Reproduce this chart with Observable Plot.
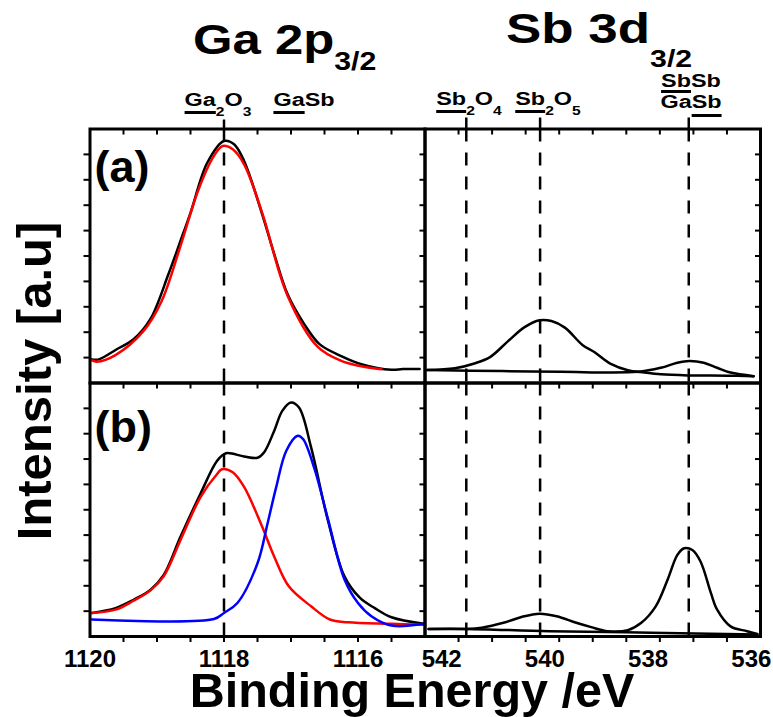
<!DOCTYPE html>
<html><head><meta charset="utf-8">
<script src="https://cdn.jsdelivr.net/npm/d3@7"></script>
<script src="https://cdn.jsdelivr.net/npm/@observablehq/plot@0.6"></script>
<style>
html,body{margin:0;padding:0;background:#fff;}
#chart{position:relative;width:773px;height:717px;overflow:hidden;font-family:"Liberation Sans",Arial,sans-serif;font-weight:bold;color:#000;}
.abs{position:absolute;white-space:nowrap;line-height:1;}
.lbl{font-size:18px;transform-origin:50% 0;transform:translateX(-50%) scaleX(1.3);text-align:center;}
.lbl sub{font-size:12px;vertical-align:-10px;line-height:0;}
.lbl u{text-decoration:underline;text-decoration-thickness:2.5px;text-underline-offset:5px;}
.ttl{font-size:42px;transform-origin:0 0;}
.ttl span{font-size:25px;line-height:0;}
</style></head><body><div id="chart"></div>
<script>
// ---------- data ----------
// Ga 2p3/2, panel (a)
const gaA_measE = [1119.97, 1119.87, 1119.6, 1119.35, 1119.1, 1118.83, 1118.65, 1118.5, 1118.25, 1118.0, 1117.85, 1117.7, 1117.43, 1117.25, 1117.05, 1116.8, 1116.57, 1116.25, 1115.95, 1115.5, 1115.33, 1115.08];
const gaA_meas  = [0.93, 0.93, 1.33, 1.72, 2.51, 4.28, 5.59, 6.7, 8.67, 9.53, 9.4, 8.74, 6.64, 5.07, 3.49, 2.31, 1.52, 1.06, 0.74, 0.52, 0.55, 0.55];
const gaA_oxE = [1119.97, 1119.9, 1119.62, 1119.2, 1118.93, 1118.65, 1118.38, 1118.15, 1118.02, 1117.87, 1117.7, 1117.43, 1117.05, 1116.6, 1116.25, 1115.95, 1115.65];
const gaA_ox  = [0.89, 0.84, 1.1, 2.05, 3.23, 5.39, 7.62, 8.94, 9.33, 9.2, 8.61, 6.7, 3.43, 1.42, 0.87, 0.66, 0.54];
// Ga 2p3/2, panel (b)
const gaB_measE = [1119.97, 1119.62, 1119.35, 1119.1, 1118.9, 1118.65, 1118.35, 1118.1, 1117.97, 1117.7, 1117.5, 1117.4, 1117.25, 1117.13, 1117.0, 1116.88, 1116.7, 1116.45, 1116.2, 1115.97, 1115.75, 1115.5, 1115.02];
const gaB_meas  = [0.93, 1.12, 1.45, 1.84, 2.43, 3.93, 5.64, 6.94, 7.23, 7.1, 7.05, 7.27, 8.12, 8.9, 9.23, 9.03, 7.46, 4.59, 2.36, 1.52, 1.12, 0.76, 0.5];
const gaB_oxE = [1119.97, 1119.62, 1119.35, 1119.1, 1118.9, 1118.65, 1118.35, 1118.1, 1118.03, 1117.87, 1117.7, 1117.43, 1117.25, 1117.03, 1116.7, 1116.42, 1116.15, 1115.5, 1115.02];
const gaB_ox  = [0.93, 1.06, 1.41, 1.81, 2.37, 3.8, 5.5, 6.42, 6.6, 6.48, 5.9, 4.33, 3.15, 1.97, 1.19, 0.67, 0.56, 0.5, 0.46];
const gaB_sbE = [1119.97, 1118.15, 1118.0, 1117.8, 1117.5, 1117.35, 1117.22, 1117.07, 1116.9, 1116.82, 1116.65, 1116.45, 1116.2, 1116.0, 1115.8, 1115.5, 1115.02];
const gaB_sb  = [0.67, 0.69, 0.93, 1.32, 2.89, 4.46, 5.9, 7.33, 7.92, 7.79, 6.62, 4.65, 2.24, 1.32, 0.8, 0.43, 0.5];
// Sb 3d3/2, panel (a)
const sbA_c1E = [542.36, 541.82, 541.46, 541.14, 540.79, 540.47, 540.18, 539.95, 539.69, 539.35, 539.12, 538.79, 538.47, 538.15, 537.83, 537.31, 536.54, 536.04];
const sbA_c1  = [0.51, 0.58, 0.76, 1.02, 1.65, 2.2, 2.47, 2.44, 2.18, 1.5, 1.22, 0.74, 0.5, 0.41, 0.34, 0.3, 0.29, 0.27];
const sbA_c2E = [542.36, 540.91, 539.76, 538.28, 537.83, 537.51, 537.28, 537.0, 536.74, 536.48, 536.03];
const sbA_c2  = [0.51, 0.47, 0.44, 0.44, 0.6, 0.8, 0.87, 0.8, 0.6, 0.41, 0.27];
// Sb 3d3/2, panel (b)
const sbB_c1E = [542.33, 541.59, 541.3, 540.88, 540.53, 540.18, 539.85, 539.47, 539.18, 538.86, 538.47, 538.21, 537.93, 537.7, 537.51, 537.38, 537.22, 537.06, 536.86, 536.74, 536.48, 536.16, 535.96];
const sbB_c1  = [0.3, 0.3, 0.35, 0.54, 0.77, 0.9, 0.8, 0.54, 0.37, 0.21, 0.25, 0.54, 1.19, 2.24, 3.22, 3.48, 3.41, 2.95, 1.71, 1.06, 0.4, 0.21, 0.1];
const sbB_c2E = [542.33, 541.59, 539.99, 538.02, 535.96];
const sbB_c2  = [0.3, 0.3, 0.21, 0.15, 0.08];

// reference binding energies (dashed lines) and their labels
const gaStateE = [1118.0];
const gaLabelE = [1118.0, 1116.9];
const gaStateLabels = ["<u>Ga</u><sub>2</sub>O<sub>3</sub>", "<u>Ga</u>Sb"];
const sbStateE = [541.6, 540.17, 537.29];
const sbStateLabels = ["<u>Sb</u><sub>2</sub>O<sub>4</sub>", "<u>Sb</u><sub>2</sub>O<sub>5</sub>", "<u style=\"text-underline-offset:3px\">Sb</u>Sb", "Ga<u style=\"text-underline-offset:6px\">Sb</u>"];

// axes
const gaDomain = [1120, 1115];
const sbDomain = [542.4, 535.9];
const gaTickLabels = [1120, 1118, 1116];
const sbTickLabels = [542, 540, 538, 536];
const panelTags = ["(a)", "(b)"];
const titles = ["Ga 2p", "Sb 3d"];
const titleSub = "3/2";
const xTitle = "Binding Energy /eV";
const yTitle = "Intensity [a.u]";

const RED = "#ff0000", BLUE = "#0000ff", BLACK = "#000000";
const FONT = "'Liberation Sans', Arial, Helvetica, sans-serif";
const chart = document.getElementById("chart");

const table = (E, V) => E.map((e, i) => ({e, v: V[i]}));

function panel(cfg) {
  const {fx, fy, fw, fh, sl, st, sw, sh, domain, series, dashes, ext, tag, tagDx, tagDy, bottom, labelTicks, labelDx = 0, leftTicks} = cfg;
  const mL = fx - sl, mT = fy - st, mR = sl + sw - (fx + fw), mB = st + sh - (fy + fh);
  const [d0, d1] = domain;
  const minor = d3.range(1, 10).map(i => d0 + i * (d1 - d0) / 10);
  const yT = d3.range(1, 10);
  const marks = [];
  marks.push(Plot.ruleX(dashes, {x: d => d, stroke: BLACK, strokeWidth: 2.5, strokeDasharray: "13,11"}));
  if (ext) marks.push(Plot.ruleX(dashes, {x: d => d, stroke: BLACK, strokeWidth: 2.5, insetTop: -ext, insetBottom: fh}));
  for (const s of series) {
    marks.push(Plot.line(s.data, {x: "e", y: "v", stroke: s.color, strokeWidth: 2.5, curve: "catmull-rom", strokeLinejoin: "round"}));
  }
  // y ticks
  if (leftTicks) marks.push(Plot.tickY(yT, {y: d => d, insetLeft: -6, insetRight: fw, stroke: BLACK, strokeWidth: 2}));
  marks.push(Plot.tickY(yT, {y: d => d, insetLeft: fw - 5, insetRight: 0, stroke: BLACK, strokeWidth: 2}));
  // top ticks (inward)
  marks.push(Plot.tickX(minor, {x: d => d, insetTop: 0, insetBottom: fh - 6, stroke: BLACK, strokeWidth: 2}));
  if (bottom) {
    marks.push(Plot.tickX(minor, {x: d => d, insetTop: fh, insetBottom: -6, stroke: BLACK, strokeWidth: 2}));
    marks.push(Plot.text(labelTicks, {x: d => d, text: d => String(d), frameAnchor: "bottom", lineAnchor: "top", textAnchor: "middle", dx: labelDx, dy: 13.5, fontSize: 24, fontWeight: "bold", fill: BLACK}));
  }
  if (tag) marks.push(Plot.text([tag], {text: d => d, frameAnchor: "top-left", textAnchor: "start", lineAnchor: "bottom", dx: tagDx, dy: tagDy, fontSize: 45, fontWeight: "bold", fill: BLACK}));
  marks.push(Plot.frame({stroke: BLACK, strokeWidth: 3}));
  const p = Plot.plot({
    width: sw, height: sh,
    marginLeft: mL, marginRight: mR, marginTop: mT, marginBottom: mB,
    x: {domain, axis: null},
    y: {domain: [0, 10], axis: null},
    style: {background: "transparent", overflow: "visible", fontFamily: FONT, fontWeight: "bold", fontSize: "24px", color: "black"},
    marks
  });
  p.style.position = "absolute";
  p.style.left = sl + "px";
  p.style.top = st + "px";
  chart.appendChild(p);
  return p;
}

const tl = panel({fx: 89.5, fy: 128.5, fw: 335, fh: 254, sl: 60, st: 110, sw: 370, sh: 280,
  domain: gaDomain, dashes: gaStateE, ext: 9, tag: panelTags[0], tagDx: 4.5, tagDy: 53, leftTicks: true,
  series: [{data: table(gaA_measE, gaA_meas), color: BLACK}, {data: table(gaA_oxE, gaA_ox), color: RED}]});
const tr = panel({fx: 424.5, fy: 128.5, fw: 335.5, fh: 254, sl: 418, st: 108, sw: 350, sh: 282,
  domain: sbDomain, dashes: sbStateE, ext: 11,
  series: [{data: table(sbA_c1E, sbA_c1), color: BLACK}, {data: table(sbA_c2E, sbA_c2), color: BLACK}]});
const bl = panel({fx: 89.5, fy: 382.5, fw: 335, fh: 253.5, sl: 50, st: 376, sw: 380, sh: 300,
  domain: gaDomain, dashes: gaStateE, tag: panelTags[1], tagDx: 4.5, tagDy: 59, leftTicks: true, bottom: true, labelTicks: gaTickLabels,
  series: [{data: table(gaB_measE, gaB_meas), color: BLACK}, {data: table(gaB_oxE, gaB_ox), color: RED}, {data: table(gaB_sbE, gaB_sb), color: BLUE}]});
const br = panel({fx: 424.5, fy: 382.5, fw: 335.5, fh: 253.5, sl: 418, st: 376, sw: 355, sh: 300,
  domain: sbDomain, dashes: sbStateE, bottom: true, labelTicks: sbTickLabels, labelDx: -4,
  series: [{data: table(sbB_c1E, sbB_c1), color: BLACK}, {data: table(sbB_c2E, sbB_c2), color: BLACK}]});

// ---------- text around the panels ----------
function addDiv(cls, html, css) {
  const d = document.createElement("div");
  d.className = "abs " + cls;
  d.innerHTML = html;
  Object.assign(d.style, css);
  chart.appendChild(d);
  return d;
}
// state labels above the top panels, placed through the panels' x scales
const gx = tl.scale("x"), sx = tr.scale("x");
const gaDx = [-6, 7];
gaStateLabels.forEach((h, i) => addDiv("lbl", h, {left: (60 + gx.apply(gaLabelE[i]) + gaDx[i]) + "px", top: "90.8px"}));
const sbAt = [sbStateE[0], sbStateE[1], sbStateE[2], sbStateE[2]];
const sbDx = [3.5, 8.5, 3, 3];
const sbTop = [89.8, 89.8, 71.5, 93];
sbStateLabels.forEach((h, i) => addDiv("lbl", h, {left: (418 + sx.apply(sbAt[i]) + sbDx[i]) + "px", top: sbTop[i] + "px"}));

// titles
addDiv("ttl", `${titles[0]}<span style="vertical-align:-16px">${titleSub}</span>`, {left: "192.5px", top: "18.7px", transform: "scaleX(1.21)"});
addDiv("ttl", `${titles[1]}<span style="vertical-align:-24px;font-size:24px">${titleSub}</span>`, {left: "506px", top: "8px", transform: "scaleX(1.26)"});

// axis titles
addDiv("", xTitle, {left: "412px", top: "672.2px", fontSize: "48.5px", lineHeight: "36px", transform: "translateX(-50%)"});
addDiv("", yTitle, {left: "33.5px", top: "381px", fontSize: "49px", transform: "translate(-50%,-50%) rotate(-90deg)"});
</script>
</body></html>
